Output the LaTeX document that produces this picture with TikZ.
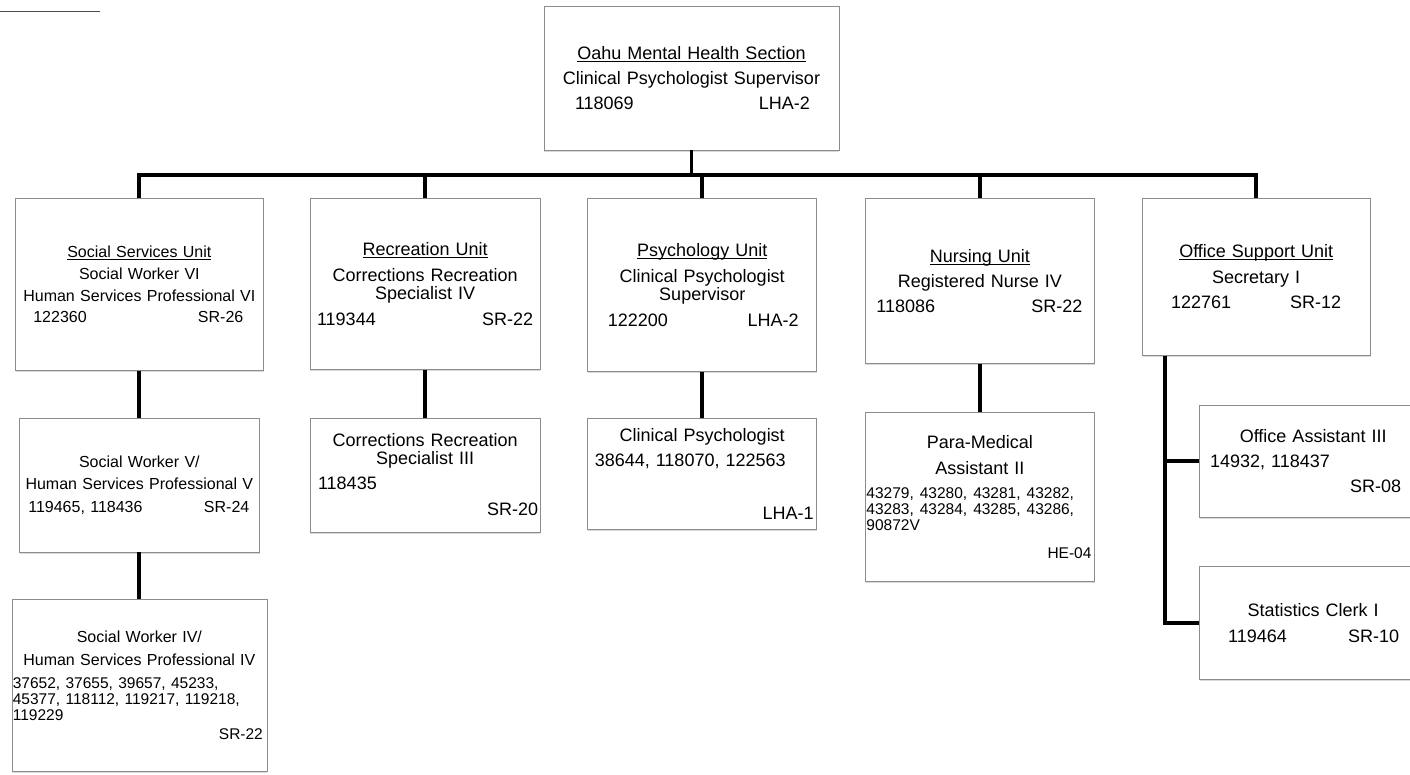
\documentclass[tikz,border=0pt]{standalone}
\usepackage{fontspec}
\setmainfont{Liberation Sans}
\usepackage{tikz}
\usetikzlibrary{positioning,shadows}
\newcommand{\bigtxt}{\fontsize{18}{18}\selectfont}
\newcommand{\midtxt}{\fontsize{16}{16}\selectfont}
\newcommand{\smalltxt}{\fontsize{15.5}{16}\selectfont}
\newcommand{\unitname}[1]{\setbox0=\hbox{#1}\rlap{\rule[-2.6pt]{\wd0}{1pt}}\box0}
\newcommand{\pline}[4]{\makebox[\hsize][l]{\hspace*{#1pt}#2\hfill#3\hspace*{#4pt}}}

\begin{document}
\begin{tikzpicture}[
  x=1pt, y=1pt,
  box/.style={rectangle, draw=black!45, line width=0.7pt, fill=white, inner sep=0pt,
    align=center, font=\bigtxt,
    drop shadow={shadow xshift=0.4pt, shadow yshift=-1.6pt, fill=blue!25!gray!50}},
  sized/.style 2 args={text width=#1pt, minimum height=#2pt},
  conn/.style={line width=3.8pt, black},
]
  \useasboundingbox (0,0) rectangle (1410,-774);
  \draw[black!70, line width=1pt] (0,-11.5) -- (100,-11.5);

  \node[box, sized={295}{144}] (top) at (691.5,-78)
    {\unitname{Oahu Mental Health Section}\\[7pt] Clinical Psychologist Supervisor\\[7pt]
     \pline{31}{118069}{LHA-2}{29}};

  % unit heads
  \node[box, sized={248}{172}, font=\midtxt, anchor=north west] (ss) at (15,-198)
    {\unitname{Social Services Unit}\\[6pt] Social Worker VI\\[6pt] Human Services Professional VI\\[5pt]
     \pline{18}{122360}{SR-26}{20}};
  \node[box, sized={230}{171}, right=46pt of ss.north east, anchor=north west] (rec)
    {\unitname{Recreation Unit}\\[8pt] Corrections Recreation\\ Specialist IV\\[8pt]
     \pline{7}{119344}{SR-22}{7}};
  \node[box, sized={229}{173}, right=47pt of rec.north east, anchor=north west] (psy)
    {\unitname{Psychology Unit}\\[8pt] Clinical Psychologist\\ Supervisor\\[8pt]
     \pline{20}{122200}{LHA-2}{18}};
  \node[box, sized={229}{165}, right=48pt of psy.north east, anchor=north west] (nurse)
    {\unitname{Nursing Unit}\\[7pt] Registered Nurse IV\\[7pt] \pline{11}{118086}{SR-22}{12}};
  \node[box, sized={228}{157}, right=47pt of nurse.north east, anchor=north west] (office)
    {\unitname{Office Support Unit}\\[8pt] Secretary I\\[7pt] \pline{29}{122761}{SR-12}{29}};

  % staff below
  \node[box, sized={240}{134}, font=\midtxt, below=47pt of ss] (swv)
    {Social Worker V/\\[6pt] Human Services Professional V\\[7pt]
     \pline{9}{119465, 118436}{SR-24}{10}};
  \node[box, sized={255}{172}, font=\midtxt, below=47pt of swv] (swiv)
    {Social Worker IV/\\[7pt] Human Services Professional IV\\[7pt]
     \smalltxt\pline{1}{37652, 37655, 39657, 45233,}{}{0}\\
     \pline{1}{45377, 118112, 119217, 119218,}{}{0}\\
     \pline{1}{119229}{}{0}\\[3pt]
     \pline{0}{}{SR-22}{4}};
  \node[box, sized={230}{114}, below=48pt of rec] (rec3)
    {Corrections Recreation\\ Specialist III\\[7pt] \pline{8}{118435}{}{0}\\[8pt]
     \pline{0}{}{SR-20}{2}};
  \node[box, sized={229}{111}, below=46pt of psy] (clin)
    {Clinical Psychologist\\[7pt] \pline{7}{38644, 118070, 122563}{}{0}\\[35pt]
     \pline{0}{}{LHA-1}{3}};
  \node[box, sized={229}{169}, below=48pt of nurse] (para)
    {Para-Medical\\[8pt] Assistant II\\[8.5pt]
     \smalltxt\pline{1}{43279, 43280, 43281, 43282,}{}{0}\\
     \pline{1}{43283, 43284, 43285, 43286,}{}{0}\\
     \pline{1}{90872V}{}{0}\\[9.5pt]
     \pline{0}{}{HE-04}{3}};
  \node[box, sized={228}{112}, below right=49pt and 57pt of office.south west] (oa)
    {Office Assistant III\\[7pt] \pline{11}{14932, 118437}{}{0}\\[7pt]
     \pline{0}{}{SR-08}{26}};
  \node[box, sized={228}{113}, below=49pt of oa] (stat)
    {Statistics Clerk I\\[8pt] \pline{29}{119464}{SR-10}{28}};

  % connectors
  \coordinate (bus) at ([yshift=23pt]ss.north);
  \draw[conn] (top.south) -- (top.south |- bus);
  \draw[conn] (ss.north) -- (bus) -| (office.north);
  \foreach \n in {rec,psy,nurse}
    \draw[conn] (\n.north) -- (\n.north |- bus);
  \draw[conn] (ss) -- (swv);
  \draw[conn] (swv) -- (swiv);
  \draw[conn] (rec) -- (rec3);
  \draw[conn] (psy) -- (clin);
  \draw[conn] (nurse) -- (para);
  \coordinate (trunk) at ([xshift=23pt]office.south west);
  \draw[conn] (trunk) |- (stat.west);
  \draw[conn] (trunk |- oa.west) -- (oa.west);
\end{tikzpicture}
\end{document}
